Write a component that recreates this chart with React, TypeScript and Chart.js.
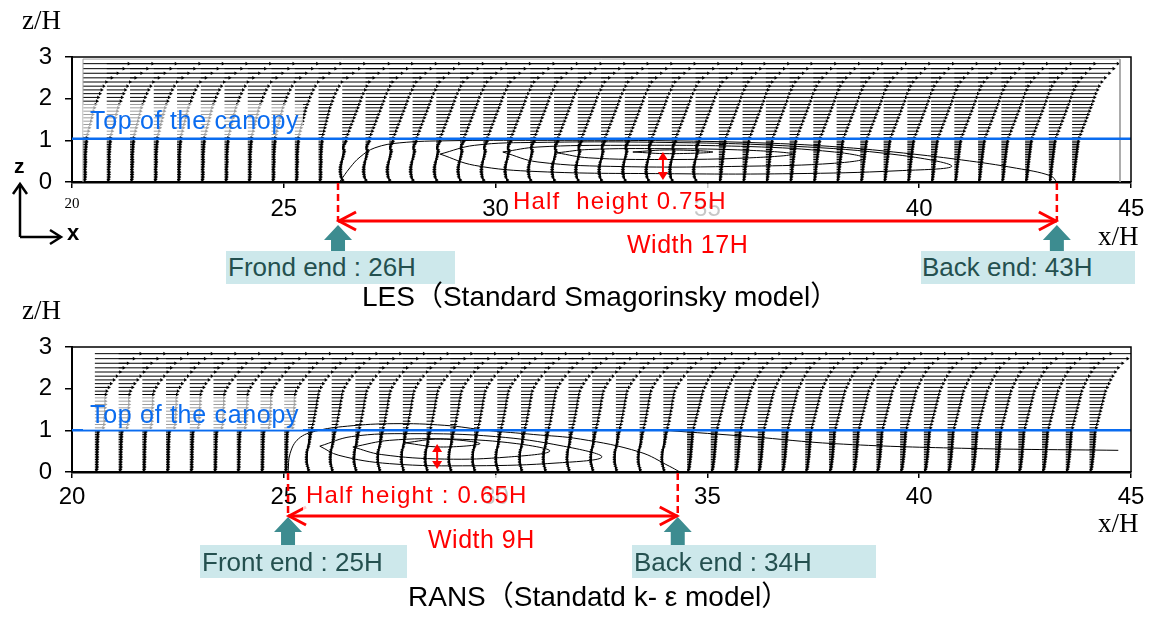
import React, { useEffect, useRef } from "react";
import { Chart, registerables } from "chart.js";
Chart.register(...registerables);

const SANS = "'Liberation Sans', Arial, 'Noto Sans CJK JP', sans-serif";
const SERIF = "'Liberation Serif', 'Times New Roman', serif";
const BLUE = "#0a6cf0";
const TEAL = "#3d8c90";
const TEAL_BG = "#cde8eb";
const TEAL_TXT = "#24504f";

// ---- axes ----
const xTicks = [20, 25, 30, 35, 40, 45];
const zTicks = [0, 1, 2, 3];

// ---- vector heights (z/H) ----
const zLevels = [
  0.02, 0.06, 0.1, 0.14, 0.18, 0.22, 0.26, 0.3, 0.34, 0.38, 0.42, 0.46, 0.5, 0.54, 0.58, 0.62, 0.66, 0.7, 0.74, 0.78,
  0.82, 0.86, 0.9, 0.94, 0.98, 1.06, 1.14, 1.22, 1.3, 1.38, 1.46, 1.54, 1.62, 1.7, 1.78, 1.86, 1.94, 2.03, 2.12, 2.21,
  2.3, 2.4, 2.5, 2.61, 2.72, 2.84,
];

// ---- LES ----
const lesStations = [
  20.26, 20.82, 21.37, 21.93, 22.48, 23.04, 23.6, 24.15, 24.71, 25.26, 25.82, 26.38, 26.93, 27.49, 28.04, 28.6, 29.16,
  29.71, 30.27, 30.82, 31.38, 31.94, 32.49, 33.05, 33.6, 34.16, 34.72, 35.27, 35.83, 36.38, 36.94, 37.5, 38.05, 38.61,
  39.16, 39.72, 40.28, 40.83, 41.39, 41.94, 42.5, 43.06, 43.61,
];
const lesBreaks = [26.3, 35.0];
const lesUp = [
  0.04, 0.045, 0.05, 0.05, 0.055, 0.055, 0.05, 0.05, 0.05, 0.055, 0.055, 0.06, 0.06, 0.06, 0.055, 0.055, 0.06, 0.06,
  0.065, 0.065, 0.07, 0.07, 0.075, 0.08, 0.085, 0.09, 0.11, 0.13, 0.15, 0.17, 0.19, 0.21, 0.23, 0.25, 0.27, 0.3, 0.33,
  0.36, 0.4, 0.44, 0.49, 0.55, 0.68, 0.82, 0.96, 1.08,
];
const lesWakeA = [
  0.02, 0.0, -0.02, -0.03, -0.04, -0.045, -0.05, -0.05, -0.045, -0.04, -0.03, -0.02, -0.01, 0.0, 0.01, 0.02, 0.03, 0.04,
  0.05, 0.04, 0.02, 0.03, 0.05, 0.07, 0.09, 0.1, 0.13, 0.16, 0.19, 0.22, 0.25, 0.28, 0.31, 0.34, 0.37, 0.4, 0.43, 0.46,
  0.5, 0.54, 0.58, 0.64, 0.74, 0.86, 0.98, 1.1,
];
const lesWakeB = [
  0.03, 0.035, 0.04, 0.045, 0.05, 0.055, 0.06, 0.06, 0.065, 0.07, 0.075, 0.08, 0.085, 0.09, 0.095, 0.1, 0.105, 0.11,
  0.115, 0.12, 0.125, 0.13, 0.135, 0.14, 0.15, 0.17, 0.2, 0.23, 0.26, 0.29, 0.32, 0.35, 0.38, 0.41, 0.44, 0.47, 0.5,
  0.53, 0.56, 0.6, 0.64, 0.7, 0.78, 0.88, 0.98, 1.08,
];
const lesSep = [[26.33, 0.02], [26.56, 0.34], [26.8, 0.6], [27.15, 0.82], [27.74, 0.94], [28.9, 0.99], [31, 1.0], [34, 0.99], [36.5, 0.93], [38.1, 0.84], [39.4, 0.72], [41.0, 0.53], [42.3, 0.33], [43.1, 0.15], [43.25, 0.0]];
const lesC1 = [[28.69, 0.67], [29.5, 0.88], [31, 0.95], [34, 0.95], [37, 0.86], [39.5, 0.65], [40.77, 0.38], [39.5, 0.27], [37, 0.2], [34, 0.2], [31, 0.25], [29.5, 0.4], [28.69, 0.67]];
const lesC2 = [[30.17, 0.72], [31, 0.84], [33, 0.88], [36, 0.85], [38, 0.72], [38.72, 0.57], [38, 0.45], [36, 0.38], [33, 0.37], [31, 0.48], [30.17, 0.72]];
const lesC3 = [[31.45, 0.7], [32.2, 0.78], [34, 0.8], [36, 0.76], [37.02, 0.67], [36, 0.58], [34, 0.54], [32.2, 0.58], [31.45, 0.7]];
const lesC4 = [[33.24, 0.72], [34.1, 0.77], [35.13, 0.72], [34.1, 0.68], [33.24, 0.72]];
const lesDomain = [[20.26, 0], [20.26, 2.95], [44.74, 2.95], [44.74, 0]];
const lesCanopyZ = 1.04;
const lesFront = 26.28;
const lesBack = 43.25;
const lesHalf = [33.95, 0.05, 0.72];

// ---- RANS ----
const ransStations = [
  20.54, 21.1, 21.66, 22.22, 22.78, 23.34, 23.89, 24.45, 25.01, 25.57, 26.13, 26.69, 27.25, 27.81, 28.37, 28.93, 29.49,
  30.04, 30.6, 31.16, 31.72, 32.28, 32.84, 33.4, 33.96, 34.52, 35.08, 35.64, 36.19, 36.75, 37.31, 37.87, 38.43, 38.99,
  39.55, 40.11, 40.67, 41.23, 41.79, 42.34, 42.9, 43.46, 44.02,
];
const ransBreaks = [25.1, 34.3];
const ransUp = [
  0.04, 0.045, 0.05, 0.05, 0.05, 0.05, 0.05, 0.055, 0.055, 0.055, 0.055, 0.055, 0.055, 0.06, 0.06, 0.06, 0.06, 0.06,
  0.065, 0.065, 0.065, 0.07, 0.07, 0.075, 0.08, 0.2, 0.22, 0.23, 0.23, 0.24, 0.24, 0.24, 0.25, 0.25, 0.25, 0.26, 0.28,
  0.33, 0.38, 0.45, 0.52, 0.6, 0.68, 0.78, 0.92, 1.08,
];
const ransWake = [
  0.02, 0.01, 0.0, -0.01, -0.02, -0.03, -0.03, -0.035, -0.035, -0.03, -0.03, -0.025, -0.02, -0.01, 0.0, 0.01, 0.02,
  0.03, 0.03, 0.04, 0.05, 0.05, 0.06, 0.07, 0.08, 0.1, 0.12, 0.14, 0.15, 0.17, 0.18, 0.2, 0.21, 0.22, 0.24, 0.25, 0.27,
  0.31, 0.36, 0.42, 0.49, 0.57, 0.66, 0.77, 0.9, 1.06,
];
const ransDown = [
  0.03, 0.04, 0.05, 0.055, 0.06, 0.065, 0.07, 0.075, 0.08, 0.085, 0.09, 0.09, 0.095, 0.1, 0.1, 0.105, 0.11, 0.11, 0.115,
  0.12, 0.12, 0.125, 0.125, 0.13, 0.13, 0.16, 0.18, 0.2, 0.22, 0.24, 0.26, 0.28, 0.3, 0.32, 0.34, 0.36, 0.38, 0.42,
  0.46, 0.5, 0.55, 0.61, 0.68, 0.78, 0.9, 1.06,
];
const ransSep = [[25.1, 0.0], [25.15, 0.45], [25.35, 0.8], [25.75, 0.98], [26.5, 1.1], [27.6, 1.16], [28.8, 1.12], [29.8, 1.0], [30.9, 0.9], [32.0, 0.79], [33.4, 0.48], [34.1, 0.14], [34.35, 0.0]];
const ransC1 = [[25.85, 0.62], [26.6, 0.85], [28, 0.92], [30, 0.85], [31.6, 0.62], [32.51, 0.36], [31.5, 0.22], [29.5, 0.15], [27.5, 0.2], [26.3, 0.4], [25.85, 0.62]];
const ransC2 = [[26.63, 0.6], [27.5, 0.76], [29, 0.79], [30.5, 0.68], [31.28, 0.5], [30.3, 0.36], [28.8, 0.31], [27.3, 0.42], [26.63, 0.6]];
const ransC3 = [[27.86, 0.7], [28.7, 0.79], [29.63, 0.68], [28.7, 0.6], [27.86, 0.7]];
const ransStream = [[34.0, 1.0], [36, 0.85], [38, 0.68], [41, 0.57], [44.7, 0.52]];
const ransCanopyZ = 1.0;
const ransFront = 25.1;
const ransBack = 34.3;
const ransHalf = [28.62, 0.07, 0.67];

const VSCALE = 1.0; // H per unit of vector

function arrowData(stations: number[], breaks: number[], profiles: number[][]) {
  const pts: any[] = [];
  stations.forEach((s) => {
    const prof = s < breaks[0] ? profiles[0] : s < breaks[1] ? profiles[1] : profiles[2];
    zLevels.forEach((z, j) => {
      const u = prof[j];
      pts.push({ x: s, y: z, h: 0 });
      pts.push({ x: s + u * VSCALE, y: z, h: u >= 0 ? 90 : 270 });
      pts.push({ x: s, y: null, h: 0 });
    });
  });
  return pts;
}

const toXY = (arr: number[][]) => arr.map(([x, y]) => ({ x, y }));

function lineDs(arr: number[][], color = "#000", width = 1, tension = 0.4) {
  return {
    data: toXY(arr),
    showLine: true,
    borderColor: color,
    borderWidth: width,
    pointRadius: 0,
    tension,
  };
}

function annotPlugin(p: any) {
  return {
    id: "annot",
    afterDraw(chart: any) {
      const { ctx, chartArea: a } = chart;
      const xs = chart.scales.x;
      const ys = chart.scales.y;
      ctx.save();
      ctx.strokeStyle = "#000";
      ctx.lineWidth = 1.5;
      ctx.beginPath();
      ctx.moveTo(a.left, a.top);
      ctx.lineTo(a.right, a.top);
      ctx.lineTo(a.right, a.bottom);
      ctx.stroke();

      const xf = xs.getPixelForValue(p.front);
      const xb = xs.getPixelForValue(p.back);
      const ya = a.bottom + p.arrowDy;
      ctx.strokeStyle = "#ff0000";
      ctx.lineWidth = 2.5;
      ctx.setLineDash([7, 4]);
      for (const px of [xf, xb]) {
        ctx.beginPath();
        ctx.moveTo(px, a.bottom + 1);
        ctx.lineTo(px, ya);
        ctx.stroke();
      }
      ctx.setLineDash([]);
      ctx.lineWidth = 3;
      ctx.beginPath();
      ctx.moveTo(xf, ya);
      ctx.lineTo(xb, ya);
      ctx.stroke();
      ctx.beginPath();
      ctx.moveTo(xf + 18, ya - 9);
      ctx.lineTo(xf + 1, ya);
      ctx.lineTo(xf + 18, ya + 9);
      ctx.stroke();
      ctx.beginPath();
      ctx.moveTo(xb - 18, ya - 9);
      ctx.lineTo(xb - 1, ya);
      ctx.lineTo(xb - 18, ya + 9);
      ctx.stroke();

      // small vertical double arrow (half height)
      const hx = xs.getPixelForValue(p.half[0]);
      const y0 = ys.getPixelForValue(p.half[1]);
      const y1 = ys.getPixelForValue(p.half[2]);
      ctx.fillStyle = "#ff0000";
      ctx.lineWidth = 2;
      ctx.beginPath();
      ctx.moveTo(hx, y1 + 6);
      ctx.lineTo(hx, y0 - 6);
      ctx.stroke();
      ctx.beginPath();
      ctx.moveTo(hx, y1);
      ctx.lineTo(hx - 5, y1 + 8);
      ctx.lineTo(hx + 5, y1 + 8);
      ctx.closePath();
      ctx.fill();
      ctx.beginPath();
      ctx.moveTo(hx, y0);
      ctx.lineTo(hx - 5, y0 - 8);
      ctx.lineTo(hx + 5, y0 - 8);
      ctx.closePath();
      ctx.fill();

      // teal block arrows
      ctx.fillStyle = TEAL;
      for (const px of [xf, xb]) {
        const t = a.bottom + p.tealTip;
        const b = a.bottom + p.tealBase;
        const e = a.bottom + p.tealEnd;
        ctx.beginPath();
        ctx.moveTo(px, t);
        ctx.lineTo(px + 14, b);
        ctx.lineTo(px + 7, b);
        ctx.lineTo(px + 7, e);
        ctx.lineTo(px - 7, e);
        ctx.lineTo(px - 7, b);
        ctx.lineTo(px - 14, b);
        ctx.closePath();
        ctx.fill();
      }
      ctx.restore();
    },
  };
}

function buildConfig(p: any) {
  const datasets: any[] = [
    lineDs([[20, p.canopyZ], [45, p.canopyZ]], BLUE, 2.5, 0),
    ...p.contours.map((c: number[][]) => lineDs(c, "#000", 1, 0.4)),
  ];
  if (p.domain) datasets.push(lineDs(p.domain, "#a0a0a0", 1, 0));
  datasets.push({
    data: arrowData(p.stations, p.breaks, p.profiles),
    showLine: true,
    spanGaps: false,
    borderColor: "#000",
    borderWidth: 1,
    pointStyle: "triangle",
    pointRadius: (c: any) => (c.raw && c.raw.h ? 2.1 : 0),
    pointRotation: (c: any) => (c.raw ? c.raw.h : 0),
    pointBackgroundColor: "#000",
    pointBorderWidth: 0,
    tension: 0,
  });
  const bigFont = { family: SANS, size: 24 };
  return {
    type: "scatter",
    data: { datasets },
    options: {
      responsive: false,
      animation: false,
      devicePixelRatio: 1,
      events: [],
      layout: { padding: { left: 2, right: 22, top: p.padTop, bottom: p.padBottom } },
      plugins: { legend: { display: false }, tooltip: { enabled: false } },
      scales: {
        x: {
          type: "linear",
          min: 20,
          max: 45,
          afterBuildTicks: (s: any) => {
            s.ticks = xTicks.map((v) => ({ value: v }));
          },
          afterFit: (s: any) => {
            s.height = 40;
          },
          grid: { drawOnChartArea: false, drawTicks: true, tickLength: 6, color: "#000", lineWidth: 1.5 },
          border: { display: true, color: "#000", width: 2.5 },
          ticks: {
            color: "#000",
            padding: p.tickPad,
            autoSkip: false,
            maxRotation: 0,
            font: (c: any) =>
              p.smallFirst && c.tick && c.tick.value === 20 ? { family: SERIF, size: 15 } : bigFont,
          },
        },
        y: {
          type: "linear",
          min: 0,
          max: 3,
          afterBuildTicks: (s: any) => {
            s.ticks = zTicks.map((v) => ({ value: v }));
          },
          afterFit: (s: any) => {
            s.width = 70;
          },
          grid: { drawOnChartArea: false, drawTicks: true, tickLength: 7, color: "#000", lineWidth: 1.5 },
          border: { display: true, color: "#000", width: 2 },
          ticks: { color: "#000", padding: 13, font: bigFont },
        },
      },
    },
    plugins: [annotPlugin(p)],
  };
}

const lesPanel = {
  stations: lesStations,
  breaks: lesBreaks,
  profiles: [lesUp, lesWakeA, lesWakeB],
  contours: [lesSep, lesC1, lesC2, lesC3, lesC4],
  domain: lesDomain,
  canopyZ: lesCanopyZ,
  front: lesFront,
  back: lesBack,
  half: lesHalf,
  smallFirst: true,
  top: 0,
  height: 300,
  padTop: 57,
  padBottom: 78,
  tickPad: 7,
  arrowDy: 39,
  tealTip: 43,
  tealBase: 58,
  tealEnd: 70,
};

const ransPanel = {
  stations: ransStations,
  breaks: ransBreaks,
  profiles: [ransUp, ransWake, ransDown],
  contours: [ransSep, ransC1, ransC2, ransC3, ransStream],
  domain: null,
  canopyZ: ransCanopyZ,
  front: ransFront,
  back: ransBack,
  half: ransHalf,
  smallFirst: false,
  top: 300,
  height: 317,
  padTop: 47,
  padBottom: 105,
  tickPad: 5,
  arrowDy: 44,
  tealTip: 45,
  tealBase: 60,
  tealEnd: 73,
};

function Panel({ cfg }: { cfg: any }) {
  const ref = useRef<HTMLCanvasElement | null>(null);
  useEffect(() => {
    const chart = new Chart(ref.current as HTMLCanvasElement, buildConfig(cfg) as any);
    return () => chart.destroy();
  }, []);
  return (
    <canvas
      ref={ref}
      width={1153}
      height={cfg.height}
      style={{ position: "absolute", left: 0, top: cfg.top, width: 1153, height: cfg.height }}
    />
  );
}

function T({ x, b, s, f = SANS, c = "#000", ls = 0, w = 400, center = false, children }: any) {
  const asc = f === SERIF ? 0.838 : 0.846;
  return (
    <div
      style={{
        position: "absolute",
        left: x,
        top: b - asc * s,
        fontFamily: f,
        fontSize: s,
        lineHeight: `${s}px`,
        color: c,
        letterSpacing: ls,
        fontWeight: w,
        whiteSpace: "pre",
        transform: center ? "translateX(-50%)" : undefined,
      }}
    >
      {children}
    </div>
  );
}

function Box({ x, y, w, h, bg }: any) {
  return <div style={{ position: "absolute", left: x, top: y, width: w, height: h, background: bg }} />;
}

export default function App() {
  const veil = "rgba(255,255,255,0.62)";
  const veil2 = "rgba(255,255,255,0.78)";
  return (
    <div style={{ position: "absolute", left: 0, top: 0, width: 1153, height: 617, background: "#fff", overflow: "hidden" }}>
      <Panel cfg={lesPanel} />
      <Panel cfg={ransPanel} />

      {/* top panel labels */}
      <T x={22} b={30} s={27} f={SERIF}>z/H</T>
      <Box x={83} y={104} w={220} h={32} bg={veil} />
      <T x={90} b={129} s={25} c={BLUE} ls={0.7}>Top of the canopy</T>
      <Box x={512} y={184} w={258} h={34} bg={veil2} />
      <T x={513} b={209} s={24} c="#ff0000" ls={1.2}>Half  height 0.75H</T>
      <T x={627} b={253} s={25} c="#ff0000" ls={0.5}>Width 17H</T>
      <Box x={226} y={251} w={229} h={33} bg={TEAL_BG} />
      <T x={228} b={276} s={26} c={TEAL_TXT}>Frond end : 26H</T>
      <Box x={921} y={251} w={214} h={33} bg={TEAL_BG} />
      <T x={922} b={276} s={26} c={TEAL_TXT}>Back end: 43H</T>
      <T x={362} b={307} s={28}>LES（Standard Smagorinsky model）</T>
      <T x={1098} b={246} s={27} f={SERIF}>x/H</T>

      {/* coordinate icon */}
      <T x={14} b={173} s={21} w={700}>z</T>
      <T x={67} b={241} s={22} w={700}>x</T>
      <svg width={80} height={80} style={{ position: "absolute", left: 0, top: 176 }}>
        <g stroke="#000" strokeWidth={2.5} fill="none">
          <path d="M20 61 L20 8" />
          <path d="M13 18 L20 8 L27 18" />
          <path d="M20 61 L60 61" />
          <path d="M50 54 L61 61 L50 68" />
        </g>
      </svg>

      {/* bottom panel labels */}
      <T x={22} b={320} s={27} f={SERIF}>z/H</T>
      <Box x={83} y={396} w={220} h={34} bg={veil} />
      <T x={90} b={423} s={25} c={BLUE} ls={0.7}>Top of the canopy</T>
      <Box x={303} y={475} w={227} h={37} bg={veil2} />
      <T x={306} b={503} s={24} c="#ff0000" ls={1.2}>Half height : 0.65H</T>
      <T x={428} b={548} s={25} c="#ff0000" ls={0.5}>Width 9H</T>
      <Box x={200} y={545} w={207} h={33} bg={TEAL_BG} />
      <T x={202} b={571} s={26} c={TEAL_TXT}>Front end : 25H</T>
      <Box x={632} y={545} w={244} h={33} bg={TEAL_BG} />
      <T x={634} b={571} s={26} c={TEAL_TXT}>Back end : 34H</T>
      <T x={408} b={607} s={28}>RANS（Standatd k- ε model）</T>
      <T x={1098} b={533} s={27} f={SERIF}>x/H</T>
    </div>
  );
}
